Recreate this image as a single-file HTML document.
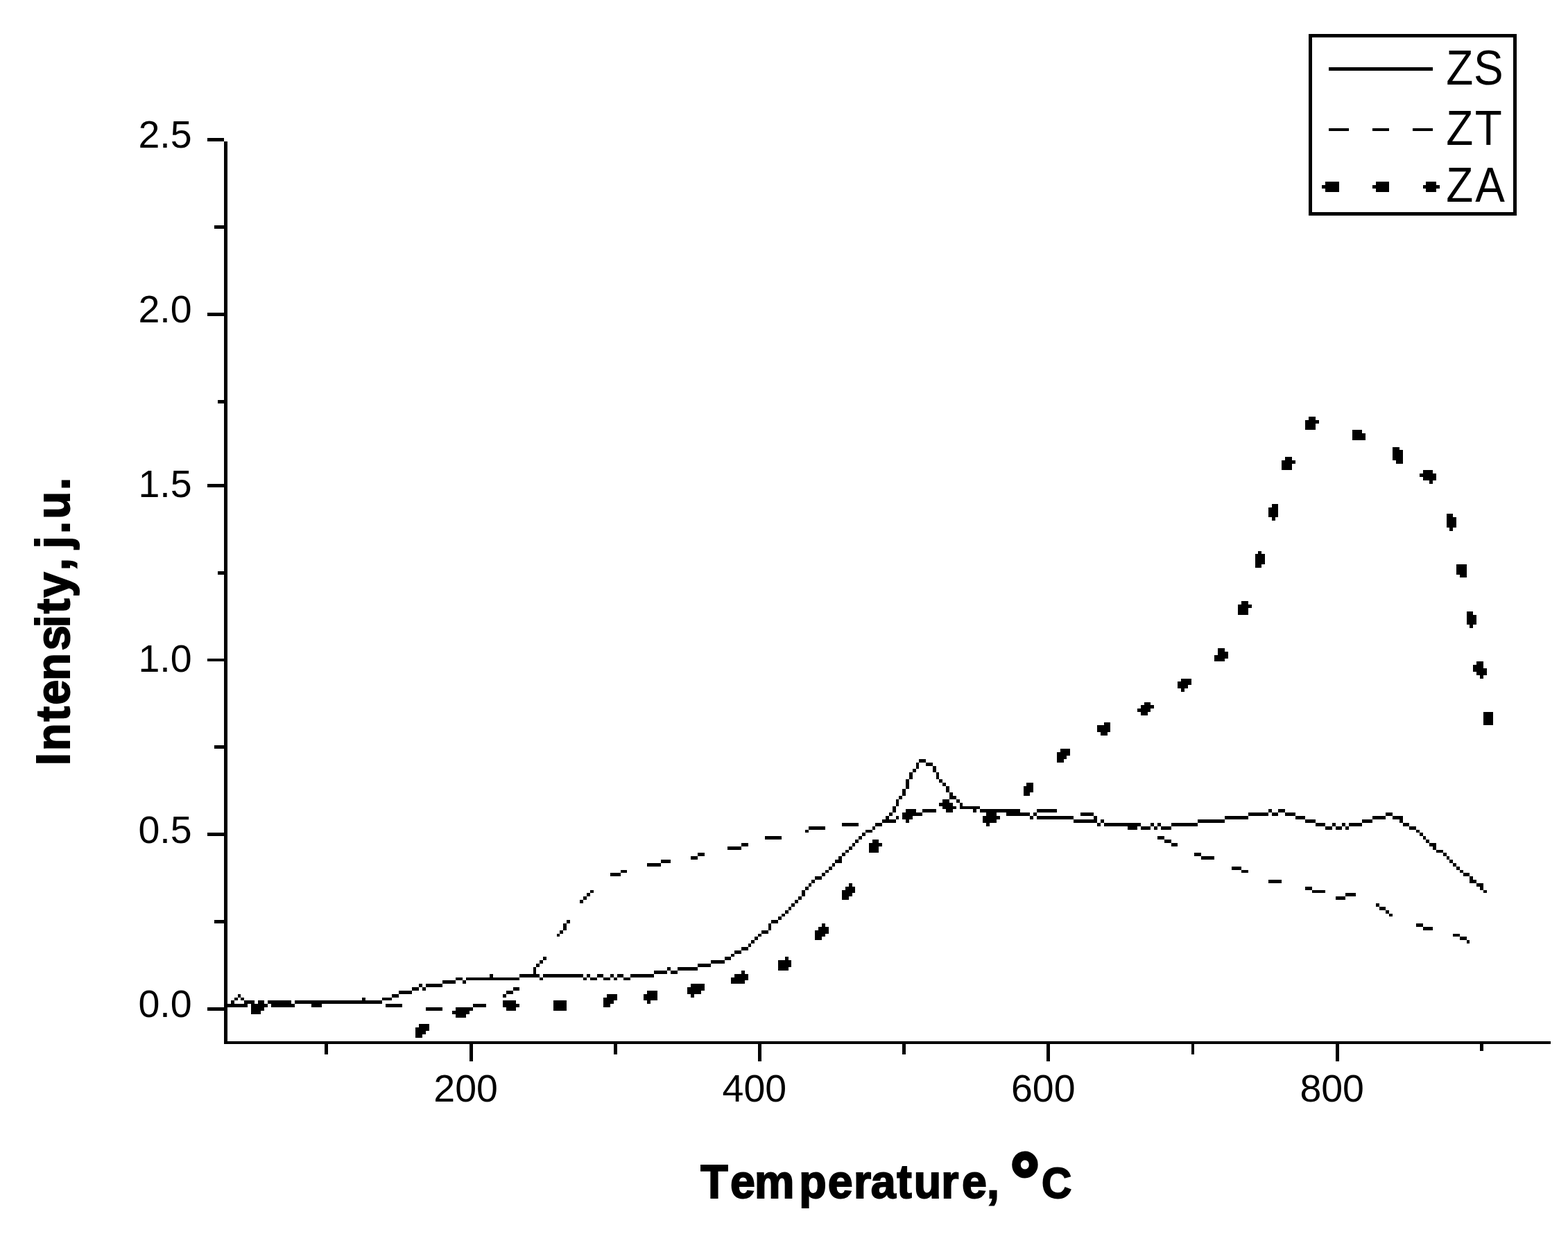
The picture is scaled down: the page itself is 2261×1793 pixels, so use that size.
<!DOCTYPE html>
<html lang="en">
<head>
<meta charset="utf-8">
<title>Intensity vs Temperature</title>
<style>
html,body{margin:0;padding:0;background:#fff;}
body{width:2261px;height:1793px;overflow:hidden;}
svg{display:block;}
text{font-family:"Liberation Sans",sans-serif;fill:#000;}
</style>
</head>
<body>
<svg width="2261" height="1793" viewBox="0 0 2261 1793">
<rect width="2261" height="1793" fill="#fff"/>
<path fill="#000" shape-rendering="crispEdges" d="M1887 49h300v5h-300zM1916 97h150v5h-150zM1916 185h29v4h-29zM1979 185h24v4h-24zM2037 185h29v4h-29zM299 199h24v5h-24zM1911 262h20v5h-20zM1984 262h19v5h-19zM2056 262h15v5h-15zM1906 267h25v5h-25zM1979 267h24v5h-24zM2052 267h24v5h-24zM1911 272h20v5h-20zM1984 272h19v5h-19zM2056 272h15v5h-15zM1887 54h5v252h-5zM2182 54h5v252h-5zM1887 306h300v5h-300zM323 204h5v121h-5zM309 325h19v5h-19zM323 330h5v121h-5zM299 451h29v5h-29zM323 456h5v121h-5zM314 577h14v5h-14zM1887 601h10v5h-10zM1882 606h20v5h-20zM1882 611h15v9h-15zM1950 620h14v5h-14zM1950 625h19v10h-19zM2008 645h10v4h-10zM1853 659h10v5h-10zM2008 649h15v15h-15zM1848 664h20v5h-20zM2013 664h10v5h-10zM1848 669h15v9h-15zM2052 678h14v5h-14zM2047 683h24v5h-24zM2052 688h19v5h-19zM323 582h5v116h-5zM2061 693h5v5h-5zM299 698h29v5h-29zM1834 727h9v5h-9zM1829 732h14v14h-14zM2086 741h9v5h-9zM1834 746h5v5h-5zM2086 746h14v15h-14zM2090 761h5v5h-5zM1814 795h5v4h-5zM1810 799h14v15h-14zM1810 814h9v5h-9zM323 703h5v121h-5zM314 824h14v5h-14zM2100 814h15v15h-15zM2105 829h10v4h-10zM1790 867h10v5h-10zM1785 872h20v5h-20zM1785 877h15v10h-15zM2115 882h9v5h-9zM2115 887h14v14h-14zM2119 901h5v5h-5zM1756 935h10v5h-10zM1756 940h15v5h-15zM323 829h5v121h-5zM1751 945h20v5h-20zM299 950h29v4h-29zM1751 950h15v4h-15zM2129 954h10v5h-10zM2124 959h15v5h-15zM2124 964h20v5h-20zM2129 969h15v5h-15zM2134 974h5v5h-5zM1703 979h15v4h-15zM1698 983h20v5h-20zM1698 988h15v5h-15zM1703 993h5v5h-5zM1650 1013h9v4h-9zM1645 1017h19v5h-19zM1640 1022h19v5h-19zM1645 1027h10v5h-10zM1592 1042h9v4h-9zM2139 1027h14v19h-14zM1582 1046h19v10h-19zM1587 1056h10v5h-10zM323 954h5v121h-5zM309 1075h19v5h-19zM1529 1080h14v5h-14zM1524 1085h19v5h-19zM1524 1090h14v5h-14zM1325 1095h10v5h-10zM1524 1095h10v5h-10zM1335 1100h10v5h-10zM1321 1100h4v9h-4zM1316 1109h5v5h-5zM1345 1105h5v9h-5zM1311 1114h5v10h-5zM1350 1114h4v10h-4zM1354 1124h5v5h-5zM1359 1129h5v5h-5zM1480 1129h10v5h-10zM1306 1124h5v14h-5zM1364 1134h5v9h-5zM1476 1134h14v9h-14zM1301 1138h5v10h-5zM1369 1143h5v5h-5zM1476 1143h9v5h-9zM1296 1148h5v5h-5zM1369 1148h10v5h-10zM1359 1153h10v5h-10zM1379 1153h5v5h-5zM1292 1153h4v10h-4zM1354 1158h20v5h-20zM1384 1158h4v5h-4zM1359 1163h20v4h-20zM1384 1163h29v4h-29zM1287 1163h5v9h-5zM1306 1167h15v5h-15zM1330 1167h20v5h-20zM1364 1167h10v5h-10zM1403 1167h5v5h-5zM1413 1167h58v5h-58zM1495 1167h29v5h-29zM1829 1167h5v5h-5zM1843 1167h10v5h-10zM1282 1172h5v5h-5zM1301 1172h29v5h-29zM1422 1172h15v5h-15zM1451 1172h34v5h-34zM1490 1172h5v5h-5zM1558 1172h19v5h-19zM1800 1172h29v5h-29zM1834 1172h9v5h-9zM1853 1172h15v5h-15zM1998 1172h10v5h-10zM1277 1177h5v5h-5zM1292 1177h4v5h-4zM1301 1177h15v5h-15zM1417 1177h25v5h-25zM1485 1177h5v5h-5zM1495 1177h53v5h-53zM1577 1177h5v5h-5zM1766 1177h34v5h-34zM1868 1177h14v5h-14zM1979 1177h19v5h-19zM2008 1177h15v5h-15zM1272 1182h20v5h-20zM1306 1182h5v5h-5zM1417 1182h20v5h-20zM1548 1182h34v5h-34zM1587 1182h5v5h-5zM1727 1182h39v5h-39zM1882 1182h15v5h-15zM1964 1182h15v5h-15zM2018 1182h5v5h-5zM1214 1187h24v5h-24zM1262 1187h10v5h-10zM1422 1187h5v5h-5zM1582 1187h5v5h-5zM1592 1187h53v5h-53zM1659 1187h5v5h-5zM1669 1187h5v5h-5zM1689 1187h38v5h-38zM1897 1187h14v5h-14zM1921 1187h5v5h-5zM1935 1187h5v5h-5zM1945 1187h19v5h-19zM2023 1187h9v5h-9zM1166 1192h24v5h-24zM1258 1192h4v5h-4zM1626 1192h14v5h-14zM1645 1192h14v5h-14zM1664 1192h5v5h-5zM1674 1192h15v5h-15zM1911 1192h10v5h-10zM1926 1192h9v5h-9zM1940 1192h5v5h-5zM2032 1192h10v5h-10zM323 1080h5v121h-5zM1161 1197h5v4h-5zM1248 1197h10v4h-10zM2042 1197h5v4h-5zM299 1201h29v5h-29zM1243 1201h5v5h-5zM2047 1201h5v5h-5zM1103 1206h24v5h-24zM1238 1206h5v5h-5zM1669 1206h10v5h-10zM2052 1206h4v5h-4zM1233 1211h5v5h-5zM1258 1211h9v5h-9zM1679 1211h10v5h-10zM2056 1211h5v5h-5zM1069 1216h10v5h-10zM1229 1216h4v5h-4zM1253 1216h19v5h-19zM1689 1216h9v5h-9zM2061 1216h10v5h-10zM1049 1221h20v5h-20zM1224 1221h5v5h-5zM2066 1221h5v5h-5zM1219 1226h5v4h-5zM1253 1221h14v9h-14zM2071 1226h10v4h-10zM1006 1230h10v5h-10zM1214 1230h5v5h-5zM1722 1230h10v5h-10zM2081 1230h5v5h-5zM996 1235h10v5h-10zM1209 1235h5v5h-5zM1732 1235h19v5h-19zM2086 1235h4v5h-4zM953 1240h14v5h-14zM1204 1240h10v5h-10zM2090 1240h5v5h-5zM933 1245h20v5h-20zM1200 1245h4v5h-4zM2095 1245h5v5h-5zM1195 1250h5v5h-5zM1776 1250h14v5h-14zM2100 1250h5v5h-5zM895 1255h9v4h-9zM1190 1255h5v4h-5zM1790 1255h10v4h-10zM2105 1255h5v4h-5zM880 1259h15v5h-15zM1185 1259h5v5h-5zM2110 1259h9v5h-9zM1175 1264h10v5h-10zM2119 1264h5v5h-5zM1170 1269h5v5h-5zM1829 1269h19v5h-19zM2119 1269h10v5h-10zM1166 1274h4v5h-4zM1224 1274h5v5h-5zM2129 1274h10v5h-10zM1161 1279h5v5h-5zM1219 1279h14v5h-14zM1882 1279h10v5h-10zM2134 1279h5v5h-5zM851 1284h5v4h-5zM1214 1284h19v4h-19zM1892 1284h19v4h-19zM2139 1284h5v4h-5zM846 1288h5v5h-5zM1156 1284h5v9h-5zM1214 1288h15v5h-15zM1940 1288h15v5h-15zM841 1293h5v5h-5zM1151 1293h5v5h-5zM1214 1293h10v5h-10zM1926 1293h14v5h-14zM836 1298h5v5h-5zM1146 1298h5v5h-5zM1141 1303h5v5h-5zM1984 1303h5v5h-5zM1137 1308h4v5h-4zM1989 1308h9v5h-9zM1132 1313h5v5h-5zM1998 1313h5v5h-5zM1127 1318h5v4h-5zM2003 1318h5v4h-5zM323 1206h5v121h-5zM1122 1322h5v5h-5zM309 1327h19v5h-19zM817 1327h5v5h-5zM1112 1327h10v5h-10zM1185 1332h5v5h-5zM2042 1332h10v5h-10zM812 1332h5v10h-5zM1108 1332h4v10h-4zM1180 1337h15v5h-15zM2052 1337h14v5h-14zM807 1342h5v5h-5zM1098 1342h10v5h-10zM1175 1342h20v5h-20zM803 1347h4v4h-4zM1093 1347h5v4h-5zM1175 1347h15v4h-15zM2095 1347h10v4h-10zM1088 1351h5v5h-5zM1175 1351h10v5h-10zM2105 1351h10v5h-10zM1083 1356h5v5h-5zM2115 1356h4v5h-4zM1079 1361h4v5h-4zM1069 1366h10v5h-10zM1059 1371h10v5h-10zM1054 1376h5v4h-5zM783 1380h5v5h-5zM1045 1380h9v5h-9zM1132 1380h5v5h-5zM778 1385h5v5h-5zM1025 1385h20v5h-20zM773 1390h5v5h-5zM1006 1390h19v5h-19zM1122 1385h19v10h-19zM962 1395h5v5h-5zM977 1395h29v5h-29zM1122 1395h15v5h-15zM769 1395h4v10h-4zM943 1400h19v5h-19zM967 1400h10v5h-10zM1069 1400h5v5h-5zM706 1405h5v5h-5zM749 1405h29v5h-29zM783 1405h58v5h-58zM846 1405h5v5h-5zM861 1405h9v5h-9zM880 1405h5v5h-5zM890 1405h9v5h-9zM909 1405h34v5h-34zM1059 1405h20v5h-20zM657 1410h10v4h-10zM672 1410h77v4h-77zM778 1410h5v4h-5zM841 1410h5v4h-5zM851 1410h10v4h-10zM870 1410h10v4h-10zM885 1410h5v4h-5zM899 1410h10v4h-10zM1054 1410h25v4h-25zM638 1414h19v5h-19zM667 1414h5v5h-5zM1054 1414h20v5h-20zM604 1419h5v5h-5zM614 1419h24v5h-24zM996 1419h20v5h-20zM594 1424h10v5h-10zM609 1424h5v5h-5zM740 1424h9v5h-9zM991 1424h25v5h-25zM575 1429h19v5h-19zM730 1429h10v5h-10zM933 1429h15v5h-15zM991 1429h20v5h-20zM343 1434h4v5h-4zM565 1434h10v5h-10zM725 1434h5v5h-5zM875 1434h15v5h-15zM996 1434h5v5h-5zM338 1439h5v4h-5zM347 1439h5v4h-5zM522 1439h5v4h-5zM551 1439h14v4h-14zM870 1439h20v4h-20zM928 1434h20v9h-20zM323 1332h5v116h-5zM333 1443h5v5h-5zM352 1443h15v5h-15zM372 1443h9v5h-9zM386 1443h34v5h-34zM425 1443h126v5h-126zM725 1443h19v5h-19zM870 1443h15v5h-15zM933 1443h5v5h-5zM323 1448h34v5h-34zM362 1448h24v5h-24zM391 1448h34v5h-34zM449 1448h15v5h-15zM556 1448h24v5h-24zM682 1448h19v5h-19zM725 1448h24v5h-24zM870 1448h10v5h-10zM299 1453h29v5h-29zM362 1453h19v5h-19zM614 1453h24v5h-24zM657 1453h25v5h-25zM730 1453h14v5h-14zM798 1443h19v15h-19zM362 1458h14v5h-14zM652 1458h25v5h-25zM657 1463h15v5h-15zM604 1477h15v5h-15zM599 1482h20v5h-20zM599 1487h15v5h-15zM599 1492h10v5h-10zM323 1458h5v44h-5zM323 1502h1913v4h-1913zM2134 1506h5v10h-5zM468 1506h5v15h-5zM885 1506h5v15h-5zM1301 1506h5v15h-5zM1718 1506h4v15h-4zM677 1506h5v25h-5zM1093 1506h5v25h-5zM1509 1506h5v25h-5zM1926 1506h5v25h-5z"/>
<text x="199.5" y="213.4" font-size="55.5">2.5</text>
<text x="199.5" y="465.1" font-size="55.5">2.0</text>
<text x="199.5" y="716.9" font-size="55.5">1.5</text>
<text x="199.5" y="968.6" font-size="55.5">1.0</text>
<text x="199.5" y="1215.6" font-size="55.5">0.5</text>
<text x="199.5" y="1467.3" font-size="55.5">0.0</text>
<text x="625.3" y="1588.6" font-size="55.5">200</text>
<text x="1041.6" y="1588.6" font-size="55.5">400</text>
<text x="1458" y="1588.6" font-size="55.5">600</text>
<text x="1874.4" y="1588.6" font-size="55.5">800</text>
<text transform="translate(2086 122) scale(0.9 1)" x="-0.8 43.2" y="0" font-size="71">ZS</text>
<text transform="translate(2086 209) scale(0.9 1)" x="-0.8 45.2" y="0" font-size="71">ZT</text>
<text transform="translate(2086 291) scale(0.9 1)" x="-0.8 45.8" y="0" font-size="71">ZA</text>
<text transform="translate(1011 1728) scale(0.95 1)" font-size="68" font-weight="bold" stroke="#000" stroke-width="2" stroke-linejoin="miter" x="-0.7 44.1 81.1 148.8 192.3 231.7 257.7 297.1 323 364.5 395.7 433.7 452.6" y="0">Temperature, <tspan x="469.5" y="12.1" font-size="110" stroke-width="5">°</tspan><tspan x="516.9" y="0" font-size="63">C</tspan></text>
<text transform="translate(100 1100) rotate(-90) scale(0.95 1)" font-size="68" font-weight="bold" stroke="#000" stroke-width="2" stroke-linejoin="miter" x="-4.2 17.9 62.7 87.7 124.4 170.2 204.9 226.2 251 291.7 310.6 325.1 347.5 369.9 413.8" y="0">Intensity, j.u.</text>
</svg>
</body>
</html>
